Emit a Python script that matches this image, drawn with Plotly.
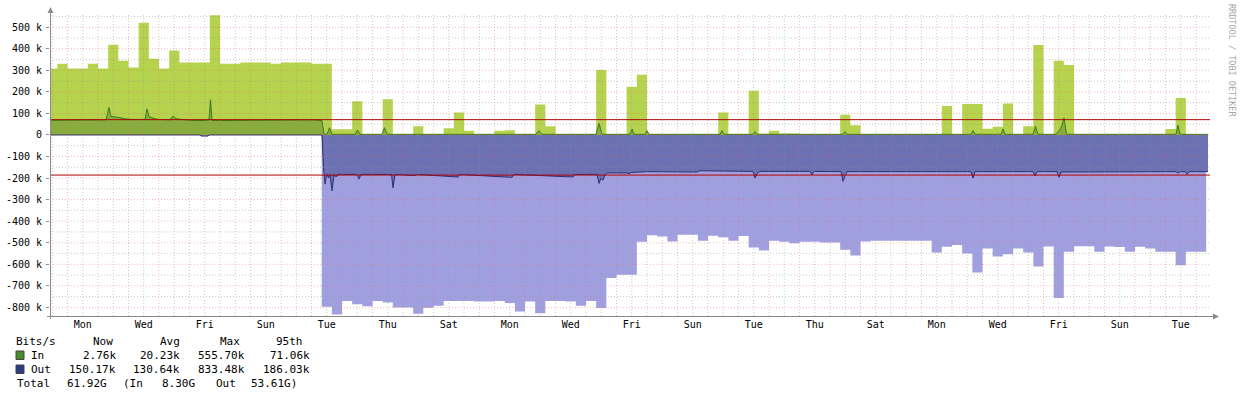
import plotly.graph_objects as go
from datetime import datetime, timedelta

# ------------------------------------------------------------------ data (kbit/s)
BASE = datetime(2024, 1, 1)               # a Monday, 00:00
BLOCK_START = datetime(2023, 12, 31, 8)   # first consolidated 8-hour MAX block
BLOCK_HOURS = 8

IN_MAX = [
    308, 331, 308, 308, 331, 308, 419, 345, 313, 521, 354, 308, 392, 336, 336, 336,
    555.7, 331, 331, 336, 336, 336, 331, 336, 336, 336, 331, 331,
    27, 27, 157, 3, 3, 166, 3, 3, 41, 3, 3, 31, 104, 20, 3, 3, 20, 22, 3, 3,
    141, 40, 3, 3, 3, 3, 302, 3, 3, 224, 280,
    3, 3, 3, 3, 3, 3, 3, 104, 3, 3, 205, 6, 20, 7, 7, 3, 5, 3, 5, 94, 45,
    3, 3, 3, 3, 3, 3, 3, 3, 134, 3, 144, 144, 29, 38, 146, 3, 40, 418, 3, 344, 325,
    3, 3, 3, 3, 3, 3, 3, 3, 3, 28, 172, 3, 3,
]

OUT_MAX = [
    0, 0, 0, 0, 0, 0, 0, 0, 0, 0, 0, 0, 0, 0, 0, 0, 0, 0, 0, 0, 0, 0, 0, 0, 0, 0, 0,
    -797, -833.48, -770, -785, -795, -770, -777, -800, -800, -830, -802, -793,
    -770, -770, -770, -773, -773, -770, -780, -819, -773, -827, -770, -770, -773,
    -793, -770, -803, -664, -649, -649, -495, -465, -471, -494, -463, -463, -491,
    -468, -475, -491, -469, -522, -536, -491, -496, -503, -496, -496, -499, -499,
    -533, -559, -494, -491, -491, -491, -491, -491, -491, -545, -519, -510, -550,
    -638, -527, -564, -553, -527, -545, -610, -517, -756, -542, -516, -516, -542,
    -517, -520, -542, -519, -527, -542, -542, -604, -542, -542,
]

# average series: time in days after BASE, value in kbit/s
IN_AVG_T = [
    -0.574, 1.066, 1.262, 1.361, 1.426, 1.656, 1.885, 2.115, 2.377, 2.541, 2.607,
    2.672, 2.770, 2.967, 3.361, 3.426, 3.492, 3.557, 3.689, 4.016, 4.508, 4.639,
    4.689, 4.738, 4.984, 6.311, 7.623, 8.115, 8.344, 8.410, 8.508, 8.590, 8.672,
    9.426, 9.508, 9.590, 10.311, 10.393, 10.475, 15.361, 15.459, 15.557, 17.328,
    17.426, 17.525, 18.443, 18.508, 18.574, 18.934, 19.000, 19.066, 21.393, 21.459,
    21.525, 22.475, 22.541, 22.607, 25.426, 25.492, 25.557, 29.623, 29.689, 29.754,
    30.607, 30.672, 30.738, 31.656, 31.738, 31.820, 32.410, 32.541, 32.607, 32.672,
    32.754, 36.344, 36.410, 36.475, 37.393,
]
IN_AVG = [
    68, 68, 70, 128, 86, 82, 75, 72, 70, 72, 121,
    85, 80, 72, 70, 84, 86, 75, 73, 68, 67, 70,
    164, 68, 67, 68, 68, 70, 66, 5, 2, 34, 3,
    3, 23, 3, 3, 34, 3, 3, 20, 3, 3,
    54, 3, 3, 28, 3, 3, 20, 3, 3, 20,
    3, 3, 16, 3, 3, 16, 3, 3, 20, 3,
    3, 28, 3, 3, 41, 3, 3, 25, 45, 80,
    3, 3, 45, 3, 2.76,
]

OUT_AVG_T = [
    -0.574, 4.344, 4.377, 4.607, 4.639, 8.344, 8.393, 8.443, 8.508, 8.557, 8.607,
    8.672, 8.738, 8.803, 8.869, 9.492, 9.557, 9.623, 10.623, 10.672, 10.738,
    11.393, 11.459, 12.803, 12.869, 14.574, 14.639, 16.574, 16.639, 17.361, 17.426,
    17.492, 17.557, 17.623, 17.689, 18.344, 18.410, 18.475, 19.000, 20.639, 20.738,
    22.475, 22.541, 22.623, 22.705, 24.344, 24.410, 24.475, 25.361, 25.426, 25.492,
    25.557, 29.623, 29.689, 29.754, 31.656, 31.721, 31.787, 32.443, 32.508, 32.574,
    36.344, 36.410, 36.475, 36.639, 36.705, 36.770, 37.393,
]
OUT_AVG = [
    0, 0, -5, -5, 0, 0, -150, -228, -180, -200, -185,
    -259, -185, -195, -183, -183, -205, -183, -183, -245, -183,
    -188, -183, -195, -183, -197, -183, -195, -183, -183, -225,
    -200, -210, -185, -176, -176, -180, -174, -170, -172, -166,
    -169, -200, -178, -169, -169, -185, -169, -170, -215, -190,
    -170, -170, -200, -170, -170, -190, -170, -170, -196, -172,
    -170, -177, -171, -170, -183, -170, -170,
]

IN_95 = 71.06
OUT_95 = 186.03

X_START_DAYS = -0.574
X_END_DAYS = 37.459

DAY_LABELS = ["Mon", "Wed", "Fri", "Sun", "Tue", "Thu", "Sat", "Mon", "Wed", "Fri",
              "Sun", "Tue", "Thu", "Sat", "Mon", "Wed", "Fri", "Sun", "Tue"]
Y_TICKS = [-800, -700, -600, -500, -400, -300, -200, -100, 0, 100, 200, 300, 400, 500]
Y_LABELS = ["-800 k", "-700 k", "-600 k", "-500 k", "-400 k", "-300 k", "-200 k",
            "-100 k", "0", "100 k", "200 k", "300 k", "400 k", "500 k"]

LEGEND_HEAD = ["Bits/s", "Now", "Avg", "Max", "95th"]
LEGEND_IN = ["In", "2.76k", "20.23k", "555.70k", "71.06k"]
LEGEND_OUT = ["Out", "150.17k", "130.64k", "833.48k", "186.03k"]
TOTAL_ROW = ["Total", "61.92G", "(In", "8.30G", "Out", "53.61G)"]
WATERMARK = "RRDTOOL / TOBI OETIKER"

# ------------------------------------------------------------------ styling
C_IN_MAX = "#b6d34e"
C_IN_AVG = "#88ad3c"
C_IN_LINE = "#3b7a1c"
C_OUT_MAX = "#a0a0e0"
C_OUT_AVG = "#6b71b3"
C_OUT_LINE = "#2b3072"
C_95 = "#b40000"
C_SW_IN = "#4b8a2b"
C_SW_OUT = "#2d3a84"
MONO = "DejaVu Sans Mono"

W, H = 1240, 397
L, R, T, B = 50, 30, 13, 81
PW, PH = W - L - R, H - T - B


def px(x):
    return (x - L) / PW


def py(y):
    return (H - B - y) / PH


def day(d):
    return BASE + timedelta(days=d)


block_x = [BLOCK_START + timedelta(hours=BLOCK_HOURS * k) for k in range(len(IN_MAX) + 1)]
x_start, x_end = day(X_START_DAYS), day(X_END_DAYS)

fig = go.Figure()

fig.add_trace(go.Scatter(x=block_x, y=IN_MAX + [IN_MAX[-1]], mode="lines", line_shape="hv",
                         fill="tozeroy", fillcolor=C_IN_MAX, line=dict(width=0, color=C_IN_MAX)))
fig.add_trace(go.Scatter(x=block_x, y=OUT_MAX + [OUT_MAX[-1]], mode="lines", line_shape="hv",
                         fill="tozeroy", fillcolor=C_OUT_MAX, line=dict(width=0, color=C_OUT_MAX)))
fig.add_trace(go.Scatter(x=[day(d) for d in IN_AVG_T], y=IN_AVG, mode="lines",
                         fill="tozeroy", fillcolor=C_IN_AVG, line=dict(width=1, color=C_IN_LINE)))
fig.add_trace(go.Scatter(x=[day(d) for d in OUT_AVG_T], y=OUT_AVG, mode="lines",
                         fill="tozeroy", fillcolor=C_OUT_AVG, line=dict(width=1, color=C_OUT_LINE)))
fig.add_trace(go.Scatter(x=[x_start, x_end], y=[IN_95, IN_95], mode="lines",
                         line=dict(width=1, color=C_95)))
fig.add_trace(go.Scatter(x=[x_start, x_end], y=[-OUT_95, -OUT_95], mode="lines",
                         line=dict(width=1, color=C_95)))

shapes = []
MAJ = "rgba(230,100,100,0.45)"
MIN = "rgba(150,150,150,0.5)"
DASH = "1px,2px"
# vertical grid: midnight (major), noon (minor)
for i in range(0, 38):
    shapes.append(dict(type="line", xref="x", yref="paper", x0=day(i), x1=day(i), y0=0, y1=1,
                       line=dict(color=MAJ, width=1, dash=DASH), layer="above"))
for i in range(-1, 37):
    shapes.append(dict(type="line", xref="x", yref="paper", x0=day(i + 0.5), x1=day(i + 0.5),
                       y0=0, y1=1, line=dict(color=MIN, width=1, dash=DASH), layer="above"))
# horizontal grid
for v in Y_TICKS:
    shapes.append(dict(type="line", xref="paper", yref="y", x0=0, x1=1, y0=v, y1=v,
                       line=dict(color=MAJ, width=1, dash=DASH), layer="above"))
for v in range(-750, 600, 100):
    shapes.append(dict(type="line", xref="paper", yref="y", x0=0, x1=1, y0=v, y1=v,
                       line=dict(color=MIN, width=1, dash=DASH), layer="above"))

AX = "#8c8c8c"
# axis lines with arrows
shapes.append(dict(type="line", xref="paper", yref="paper", x0=px(50.5), x1=px(50.5),
                   y0=py(319), y1=py(10), line=dict(color=AX, width=1), layer="above"))
shapes.append(dict(type="line", xref="paper", yref="paper", x0=px(47), x1=px(1214),
                   y0=py(316.5), y1=py(316.5), line=dict(color=AX, width=1), layer="above"))
shapes.append(dict(type="path", xref="paper", yref="paper",
                   path=f"M {px(47.5)},{py(13)} L {px(50.5)},{py(7)} L {px(53.5)},{py(13)} Z",
                   fillcolor=AX, line=dict(color=AX, width=0), layer="above"))
shapes.append(dict(type="path", xref="paper", yref="paper",
                   path=f"M {px(1213)},{py(313.5)} L {px(1219)},{py(316.5)} L {px(1213)},{py(319.5)} Z",
                   fillcolor=AX, line=dict(color=AX, width=0), layer="above"))
# legend swatches
shapes.append(dict(type="rect", xref="paper", yref="paper", x0=px(16), x1=px(24),
                   y0=py(359.5), y1=py(351), fillcolor=C_SW_IN, line=dict(color="#444", width=1)))
shapes.append(dict(type="rect", xref="paper", yref="paper", x0=px(16), x1=px(24),
                   y0=py(373.5), y1=py(365), fillcolor=C_SW_OUT, line=dict(color="#444", width=1)))

annotations = []


def txt(s, x, y, anchor):
    annotations.append(dict(text=s, xref="paper", yref="paper", x=px(x), y=py(y),
                            xanchor=anchor, yanchor="middle", showarrow=False,
                            font=dict(family=MONO, size=11, color="#000"), borderpad=0))


txt(LEGEND_HEAD[0], 15, 341.5, "left")
for s, xr in zip(LEGEND_HEAD[1:], [114, 181, 241, 304]):
    txt(s, xr, 341.5, "right")
for row, yy in ((LEGEND_IN, 355.5), (LEGEND_OUT, 369.5)):
    txt(row[0], 30, yy, "left")
    for s, xr in zip(row[1:], [117, 181, 246, 311]):
        txt(s, xr, yy, "right")
txt(TOTAL_ROW[0], 16, 383.5, "left")
txt(TOTAL_ROW[1], 108, 383.5, "right")
txt(TOTAL_ROW[2], 122, 383.5, "left")
txt(TOTAL_ROW[3], 196, 383.5, "right")
txt(TOTAL_ROW[4], 215, 383.5, "left")
txt(TOTAL_ROW[5], 298, 383.5, "right")

annotations.append(dict(text=WATERMARK, xref="paper", yref="paper", x=px(1232), y=py(60),
                        xanchor="center", yanchor="middle", showarrow=False, textangle=90,
                        font=dict(family=MONO, size=8.5, color="#a8a8a8")))

fig.update_layout(
    width=W, height=H,
    margin=dict(l=L, r=R, t=T, b=B, pad=0, autoexpand=False),
    paper_bgcolor="white", plot_bgcolor="white",
    showlegend=False,
    shapes=shapes,
    annotations=annotations,
    xaxis=dict(type="date", range=[x_start, x_end], showgrid=False, zeroline=False,
               showline=False, automargin=False, tickmode="array",
               tickvals=[day(2 * i + 0.5) for i in range(len(DAY_LABELS))],
               ticktext=DAY_LABELS, ticks="", ticklabelstandoff=1,
               tickfont=dict(family=MONO, size=10, color="#000")),
    yaxis=dict(range=[-840, 566], showgrid=False, zeroline=False, showline=False,
               automargin=False,
               tickmode="array", tickvals=Y_TICKS, ticktext=Y_LABELS,
               ticks="outside", ticklen=3, tickcolor=AX, ticklabelstandoff=2,
               tickfont=dict(family=MONO, size=10, color="#000")),
)

fig.write_html("out.html", config={"displayModeBar": False},
               post_script="document.body.style.margin='0';document.body.style.padding='0';")
